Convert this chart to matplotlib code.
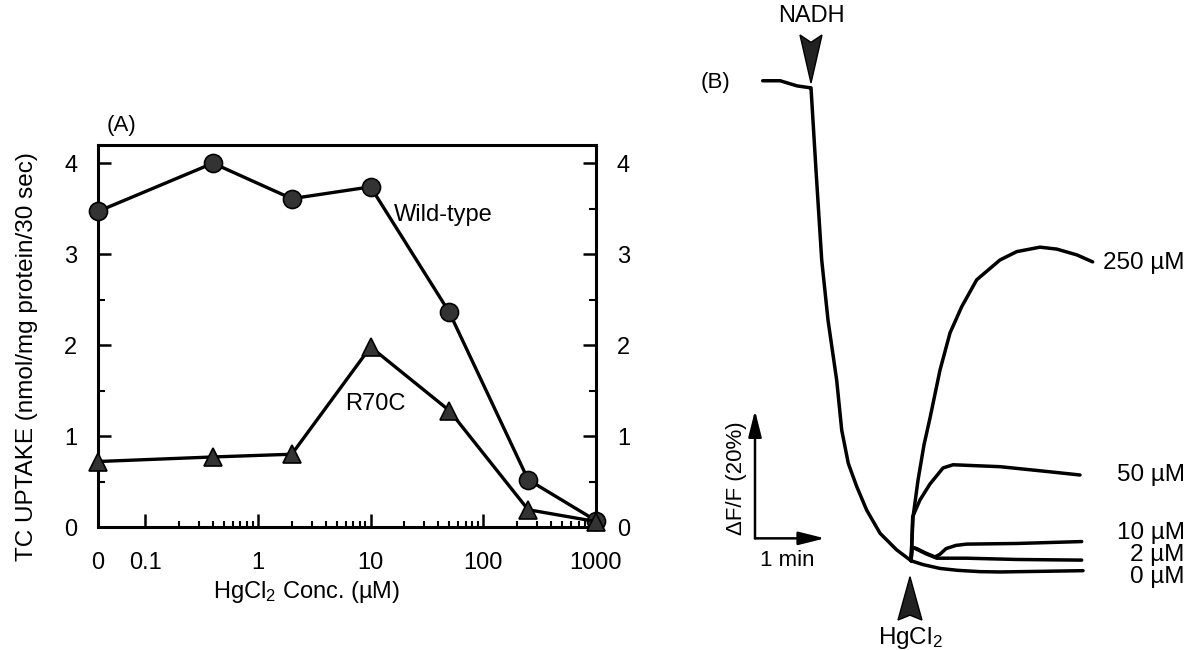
import matplotlib
matplotlib.use("Agg")
import matplotlib.pyplot as plt
from matplotlib.patches import Polygon

plt.rcParams['font.family'] = ['Liberation Sans', 'DejaVu Sans']
plt.rcParams['mathtext.fontset'] = 'custom'
plt.rcParams['mathtext.rm'] = 'Liberation Sans'
plt.rcParams['mathtext.it'] = 'Liberation Sans:italic'

# ---- panel A data: TC uptake vs HgCl2 concentration ----
conc = [0, 0.4, 2, 10, 50, 250, 1000]
wild_type = [3.47, 4.00, 3.61, 3.74, 2.36, 0.52, 0.07]
r70c = [0.72, 0.77, 0.80, 1.98, 1.28, 0.19, 0.06]
x_ticks = [0, 0.1, 1, 10, 100, 1000]
x_tick_labels = ['0', '0.1', '1', '10', '100', '1000']
ZERO_POS = 0.0382   # where "0" sits on the log axis

# ---- panel B data: fluorescence traces (time in min, dF/F in %) ----
t_base = [-0.69, -0.44, -0.20, -0.01, 0.0, 0.071, 0.153, 0.243, 0.367, 0.439,
          0.533, 0.653, 0.796, 0.986, 1.224, 1.43]
f_base = [76.6, 76.6, 75.8, 75.5, 75.5, 62.7, 48.6, 39.2, 29.8, 22.0,
          16.8, 13.2, 9.5, 5.9, 3.3, 1.6]
t_0 = [1.43, 1.60, 1.843, 2.10, 2.414, 2.70, 3.886]
f_0 = [1.6, 1.0, 0.4, 0.1, -0.1, -0.15, 0.05]
t_2 = [1.43, 1.443, 1.51, 1.64, 1.796, 2.224, 2.939, 3.867]
f_2 = [1.6, 3.75, 3.4, 2.7, 2.0, 2.0, 1.8, 1.7]
t_10 = [1.43, 1.443, 1.51, 1.64, 1.77, 1.84, 1.93, 2.07, 2.224, 2.939, 3.867]
f_10 = [1.6, 3.75, 3.5, 2.8, 2.2, 2.6, 3.5, 4.0, 4.2, 4.3, 4.6]
t_50 = [1.43, 1.453, 1.557, 1.70, 1.886, 2.029, 2.70, 3.414, 3.843]
f_50 = [1.6, 8.5, 11.1, 13.6, 16.1, 16.6, 16.3, 15.5, 15.0]
t_250 = [1.43, 1.457, 1.529, 1.614, 1.70, 1.843, 1.986, 2.153, 2.367, 2.70,
         2.939, 3.271, 3.51, 3.796, 4.024]
f_250 = [1.6, 8.4, 14.2, 19.7, 23.9, 31.4, 37.2, 41.3, 45.5, 48.6,
         49.9, 50.6, 50.3, 49.4, 48.3]
trace_labels = ['250 \u00b5M', '50 \u00b5M', '10 \u00b5M', '2 \u00b5M', '0 \u00b5M']
label_f = [48.1, 15.0, 5.9, 2.5, -0.9]

W, H = 1188, 650
fig = plt.figure(figsize=(W / 100, H / 100), dpi=100)

# ================= panel A =================
ax = fig.add_axes([98 / W, 123 / H, 498 / W, 382 / H])
xs = [c if c > 0 else ZERO_POS for c in conc]
ax.plot(xs, wild_type, '-o', color='black', lw=2.4, ms=13,
        mfc='#333333', mec='black', mew=1.2, clip_on=False, zorder=3)
ax.plot(xs, r70c, '-^', color='black', lw=2.4, ms=13,
        mfc='#333333', mec='black', mew=1.2, clip_on=False, zorder=3)
ax.set_xscale('log')
ax.set_xlim(ZERO_POS, 1000)
ax.set_ylim(0, 4.2)
ax.set_xticks([t if t > 0 else ZERO_POS for t in x_ticks])
ax.set_xticklabels(x_tick_labels)
minor = [k * 10.0 ** d for d in range(-1, 3) for k in range(2, 10)]
ax.set_xticks(minor, minor=True)
ax.xaxis.set_minor_formatter(plt.NullFormatter())
ax.set_yticks([0, 1, 2, 3, 4])
ax.set_yticks([0.5, 1.5, 2.5, 3.5], minor=True)
for s in ax.spines.values():
    s.set_linewidth(2.2)
ax.tick_params(axis='x', which='major', direction='in', length=9.5, width=1.8,
               pad=18, labelsize=17, top=False)
ax.tick_params(axis='x', which='minor', direction='in', length=4.5, width=1.5, top=False)
ax.tick_params(axis='y', which='major', direction='in', length=9.5, width=1.8,
               pad=15, labelsize=17, right=True, labelright=True)
ax.tick_params(axis='y', which='minor', direction='in', length=5, width=1.5, right=True)

ax.text(16, 3.43, 'Wild-type', fontsize=17, va='center', ha='left')
ax.text(6.0, 1.35, 'R70C', fontsize=17, va='center', ha='left')
fig.text(107 / W, 1 - 125 / H, '(A)', fontsize=16, va='center', ha='left')
fig.text(27 / W, 1 - 357 / H, 'TC UPTAKE (nmol/mg protein/30 sec)', fontsize=17.5,
         rotation=90, va='center', ha='center')
fig.text(307 / W, 1 - 592 / H, r'HgCl$_2$ Conc. (µM)', fontsize=17,
         va='center', ha='center')

# ================= panel B =================
bx = fig.add_axes([640 / W, 0, 548 / W, 1])
bx.set_xlim((640 - 811) / 70, (1188 - 811) / 70)
bx.set_ylim((571 - 650) / 6.4, 571 / 6.4)
bx.axis('off')

kw = dict(color='black', lw=2.5, solid_joinstyle='round', solid_capstyle='round')
bx.plot(t_base, f_base, **kw)
for t, f in [(t_0, f_0), (t_2, f_2), (t_10, f_10), (t_50, f_50), (t_250, f_250)]:
    bx.plot(t, f, **kw)

for lab, fy in zip(trace_labels, label_f):
    bx.text(5.34, fy, lab, fontsize=17.5, ha='right', va='center')

# NADH arrowhead (pointing down)
bx.add_patch(Polygon([(-0.157, 83.75), (0, 82.6), (0.157, 83.75), (0, 76.25)],
                     closed=True, fc='#222222', ec='black', lw=1))
bx.text(0, 85.0, 'NADH', fontsize=17, ha='center', va='bottom')
# HgCl2 arrowhead (pointing up)
bx.add_patch(Polygon([(1.243, -7.66), (1.414, -6.9), (1.585, -7.66), (1.414, -0.9)],
                     closed=True, fc='#222222', ec='black', lw=1))
bx.text(1.414, -8.4, r'HgCl$_2$', fontsize=17.5, ha='center', va='top')

bx.text(-1.57, 76.3, '(B)', fontsize=16, ha='left', va='center')

# scale bar
corner = (-0.8, 5.1)
ap = dict(arrowstyle='-|>,head_length=0.8,head_width=0.2', color='black', lw=1.8,
          shrinkA=0, shrinkB=0, mutation_scale=20)
bx.annotate('', xy=(corner[0], corner[1] + 20), xytext=corner, arrowprops=ap)
bx.annotate('', xy=(corner[0] + 1, corner[1]), xytext=corner, arrowprops=ap)
bx.text(-0.34, 1.6, '1 min', fontsize=16, ha='center', va='center')
bx.text(-1.06, 14.5, '\u0394F/F (20%)', fontsize=16, rotation=90, ha='center', va='center')

fig.savefig('out.png', dpi=100)
